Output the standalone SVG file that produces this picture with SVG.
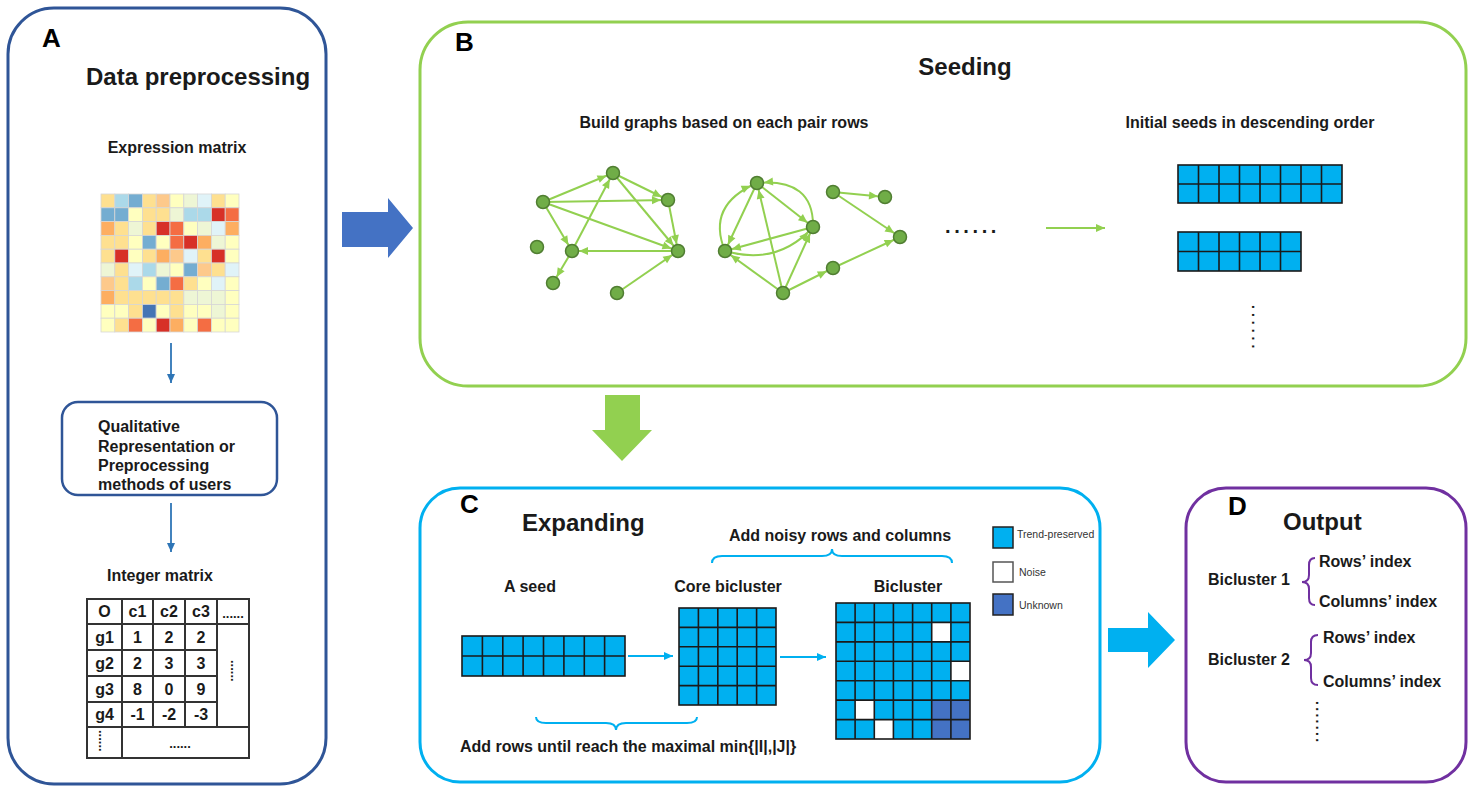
<svg xmlns="http://www.w3.org/2000/svg" width="1477" height="792" viewBox="0 0 1477 792">
  <defs>
    <style>
      .t { font-family: "Liberation Sans", Arial, sans-serif; fill: #1a1a1a; }
      .b { font-weight: bold; }
      .h1 { font-size: 24px; font-weight: bold; }
      .lab { font-size: 26px; font-weight: bold; fill: #000; }
      .s16 { font-size: 16px; font-weight: bold; }
      .leg { font-size: 10.5px; fill: #333; }
      .panel { fill: #fff; stroke-width: 3; }
      .edge { fill: none; stroke: #92D050; stroke-width: 2; marker-end: url(#gArrow); }
      .node { fill: #70AD47; stroke: #507E32; stroke-width: 1.5; }
      .cell { fill: #00B0F0; }
      .grid { fill: none; stroke: #1a1a1a; stroke-width: 1.6; }
      .hm { stroke: #d6d6d6; stroke-width: 0.8; }
      .R { fill: #D73027; } .O { fill: #F46D43; } .o { fill: #FDAE61; } .p { fill: #FDC98B; }
      .y { fill: #FEE090; } .Y { fill: #FFFFBF; } .g { fill: #EEF6D5; } .w { fill: #E0F3F8; }
      .bl { fill: #ABD9E9; } .B { fill: #74ADD1; } .D { fill: #4575B4; }
      .tbl { fill: none; stroke: #333; stroke-width: 2; }
    </style>
    <marker id="gArrow" markerUnits="userSpaceOnUse" markerWidth="10" markerHeight="8" refX="16" refY="4" orient="auto" overflow="visible">
      <path d="M0,0 L9,4 L0,8 z" fill="#92D050"/>
    </marker>
    <marker id="gTip" markerUnits="userSpaceOnUse" markerWidth="10" markerHeight="8" refX="9" refY="4" orient="auto" overflow="visible">
      <path d="M0,0 L9,4 L0,8 z" fill="#92D050"/>
    </marker>
    <marker id="bTip" markerUnits="userSpaceOnUse" markerWidth="10" markerHeight="8" refX="9" refY="4" orient="auto" overflow="visible">
      <path d="M0,0 L9,4 L0,8 z" fill="#2E75B6"/>
    </marker>
    <marker id="cTip" markerUnits="userSpaceOnUse" markerWidth="10" markerHeight="8" refX="9" refY="4" orient="auto" overflow="visible">
      <path d="M0,0 L9,4 L0,8 z" fill="#00B0F0"/>
    </marker>
  </defs>

  <rect width="1477" height="792" fill="#fff"/>

  <!-- Panel A: data preprocessing -->
  <g id="panelA">
    <rect class="panel" x="8" y="8" width="318" height="776" rx="46" stroke="#2F5597"/>
    <text class="t lab" x="42" y="47">A</text>
    <text class="t h1" x="86" y="85">Data preprocessing</text>
    <text class="t s16" x="177" y="153" text-anchor="middle">Expression matrix</text>
  </g>

  <g id="heatmap" class="hm">
    <!-- row 0 -->
    <rect class="y" x="101" y="194" width="13.8" height="13.8"/><rect class="bl" x="114.8" y="194" width="13.8" height="13.8"/><rect class="B" x="128.6" y="194" width="13.8" height="13.8"/><rect class="y" x="142.4" y="194" width="13.8" height="13.8"/><rect class="p" x="156.2" y="194" width="13.8" height="13.8"/><rect class="Y" x="170" y="194" width="13.8" height="13.8"/><rect class="g" x="183.8" y="194" width="13.8" height="13.8"/><rect class="w" x="197.6" y="194" width="13.8" height="13.8"/><rect class="y" x="211.4" y="194" width="13.8" height="13.8"/><rect class="Y" x="225.2" y="194" width="13.8" height="13.8"/>
    <!-- row 1 -->
    <rect class="B" x="101" y="207.8" width="13.8" height="13.8"/><rect class="B" x="114.8" y="207.8" width="13.8" height="13.8"/><rect class="Y" x="128.6" y="207.8" width="13.8" height="13.8"/><rect class="y" x="142.4" y="207.8" width="13.8" height="13.8"/><rect class="y" x="156.2" y="207.8" width="13.8" height="13.8"/><rect class="g" x="170" y="207.8" width="13.8" height="13.8"/><rect class="bl" x="183.8" y="207.8" width="13.8" height="13.8"/><rect class="bl" x="197.6" y="207.8" width="13.8" height="13.8"/><rect class="R" x="211.4" y="207.8" width="13.8" height="13.8"/><rect class="O" x="225.2" y="207.8" width="13.8" height="13.8"/>
    <!-- row 2 -->
    <rect class="o" x="101" y="221.6" width="13.8" height="13.8"/><rect class="y" x="114.8" y="221.6" width="13.8" height="13.8"/><rect class="g" x="128.6" y="221.6" width="13.8" height="13.8"/><rect class="y" x="142.4" y="221.6" width="13.8" height="13.8"/><rect class="R" x="156.2" y="221.6" width="13.8" height="13.8"/><rect class="O" x="170" y="221.6" width="13.8" height="13.8"/><rect class="Y" x="183.8" y="221.6" width="13.8" height="13.8"/><rect class="g" x="197.6" y="221.6" width="13.8" height="13.8"/><rect class="w" x="211.4" y="221.6" width="13.8" height="13.8"/><rect class="o" x="225.2" y="221.6" width="13.8" height="13.8"/>
    <!-- row 3 -->
    <rect class="y" x="101" y="235.4" width="13.8" height="13.8"/><rect class="y" x="114.8" y="235.4" width="13.8" height="13.8"/><rect class="Y" x="128.6" y="235.4" width="13.8" height="13.8"/><rect class="B" x="142.4" y="235.4" width="13.8" height="13.8"/><rect class="Y" x="156.2" y="235.4" width="13.8" height="13.8"/><rect class="O" x="170" y="235.4" width="13.8" height="13.8"/><rect class="R" x="183.8" y="235.4" width="13.8" height="13.8"/><rect class="o" x="197.6" y="235.4" width="13.8" height="13.8"/><rect class="g" x="211.4" y="235.4" width="13.8" height="13.8"/><rect class="Y" x="225.2" y="235.4" width="13.8" height="13.8"/>
    <!-- row 4 -->
    <rect class="y" x="101" y="249.2" width="13.8" height="13.8"/><rect class="R" x="114.8" y="249.2" width="13.8" height="13.8"/><rect class="Y" x="128.6" y="249.2" width="13.8" height="13.8"/><rect class="y" x="142.4" y="249.2" width="13.8" height="13.8"/><rect class="o" x="156.2" y="249.2" width="13.8" height="13.8"/><rect class="p" x="170" y="249.2" width="13.8" height="13.8"/><rect class="w" x="183.8" y="249.2" width="13.8" height="13.8"/><rect class="y" x="197.6" y="249.2" width="13.8" height="13.8"/><rect class="R" x="211.4" y="249.2" width="13.8" height="13.8"/><rect class="Y" x="225.2" y="249.2" width="13.8" height="13.8"/>
    <!-- row 5 -->
    <rect class="g" x="101" y="263" width="13.8" height="13.8"/><rect class="y" x="114.8" y="263" width="13.8" height="13.8"/><rect class="w" x="128.6" y="263" width="13.8" height="13.8"/><rect class="bl" x="142.4" y="263" width="13.8" height="13.8"/><rect class="g" x="156.2" y="263" width="13.8" height="13.8"/><rect class="Y" x="170" y="263" width="13.8" height="13.8"/><rect class="B" x="183.8" y="263" width="13.8" height="13.8"/><rect class="p" x="197.6" y="263" width="13.8" height="13.8"/><rect class="y" x="211.4" y="263" width="13.8" height="13.8"/><rect class="w" x="225.2" y="263" width="13.8" height="13.8"/>
    <!-- row 6 -->
    <rect class="p" x="101" y="276.8" width="13.8" height="13.8"/><rect class="y" x="114.8" y="276.8" width="13.8" height="13.8"/><rect class="bl" x="128.6" y="276.8" width="13.8" height="13.8"/><rect class="Y" x="142.4" y="276.8" width="13.8" height="13.8"/><rect class="B" x="156.2" y="276.8" width="13.8" height="13.8"/><rect class="O" x="170" y="276.8" width="13.8" height="13.8"/><rect class="y" x="183.8" y="276.8" width="13.8" height="13.8"/><rect class="Y" x="197.6" y="276.8" width="13.8" height="13.8"/><rect class="w" x="211.4" y="276.8" width="13.8" height="13.8"/><rect class="Y" x="225.2" y="276.8" width="13.8" height="13.8"/>
    <!-- row 7 -->
    <rect class="o" x="101" y="290.6" width="13.8" height="13.8"/><rect class="y" x="114.8" y="290.6" width="13.8" height="13.8"/><rect class="y" x="128.6" y="290.6" width="13.8" height="13.8"/><rect class="y" x="142.4" y="290.6" width="13.8" height="13.8"/><rect class="y" x="156.2" y="290.6" width="13.8" height="13.8"/><rect class="y" x="170" y="290.6" width="13.8" height="13.8"/><rect class="g" x="183.8" y="290.6" width="13.8" height="13.8"/><rect class="g" x="197.6" y="290.6" width="13.8" height="13.8"/><rect class="g" x="211.4" y="290.6" width="13.8" height="13.8"/><rect class="Y" x="225.2" y="290.6" width="13.8" height="13.8"/>
    <!-- row 8 -->
    <rect class="Y" x="101" y="304.4" width="13.8" height="13.8"/><rect class="Y" x="114.8" y="304.4" width="13.8" height="13.8"/><rect class="y" x="128.6" y="304.4" width="13.8" height="13.8"/><rect class="D" x="142.4" y="304.4" width="13.8" height="13.8"/><rect class="Y" x="156.2" y="304.4" width="13.8" height="13.8"/><rect class="y" x="170" y="304.4" width="13.8" height="13.8"/><rect class="Y" x="183.8" y="304.4" width="13.8" height="13.8"/><rect class="Y" x="197.6" y="304.4" width="13.8" height="13.8"/><rect class="g" x="211.4" y="304.4" width="13.8" height="13.8"/><rect class="Y" x="225.2" y="304.4" width="13.8" height="13.8"/>
    <!-- row 9 -->
    <rect class="Y" x="101" y="318.2" width="13.8" height="13.8"/><rect class="y" x="114.8" y="318.2" width="13.8" height="13.8"/><rect class="O" x="128.6" y="318.2" width="13.8" height="13.8"/><rect class="Y" x="142.4" y="318.2" width="13.8" height="13.8"/><rect class="R" x="156.2" y="318.2" width="13.8" height="13.8"/><rect class="o" x="170" y="318.2" width="13.8" height="13.8"/><rect class="Y" x="183.8" y="318.2" width="13.8" height="13.8"/><rect class="O" x="197.6" y="318.2" width="13.8" height="13.8"/><rect class="Y" x="211.4" y="318.2" width="13.8" height="13.8"/><rect class="Y" x="225.2" y="318.2" width="13.8" height="13.8"/>
  </g>

  <g id="qualBox">
    <rect x="62" y="402" width="215" height="93" rx="16" fill="#fff" stroke="#2F5597" stroke-width="2.5"/>
    <text class="t s16" x="98" y="432">Qualitative</text>
    <text class="t s16" x="98" y="452">Representation or</text>
    <text class="t s16" x="98" y="471">Preprocessing</text>
    <text class="t s16" x="98" y="490">methods of users</text>
  </g>

  <g id="integerMatrix">
    <text class="t s16" x="107" y="581">Integer matrix</text>
    <rect class="tbl" x="87" y="599" width="162" height="159"/>
    <path class="tbl" d="M87,624 H249 M87,727 H249 M87,650 H217 M87,676 H217 M87,702 H217 M122,599 V758 M153,599 V727 M185,599 V727 M217,599 V727"/>
    <g class="t s16" text-anchor="middle">
      <text x="104.5" y="617">O</text><text x="137.5" y="617">c1</text><text x="169" y="617">c2</text><text x="201" y="617">c3</text>
      <text x="104.5" y="643">g1</text><text x="137.5" y="643">1</text><text x="169" y="643">2</text><text x="201" y="643">2</text>
      <text x="104.5" y="669">g2</text><text x="137.5" y="669">2</text><text x="169" y="669">3</text><text x="201" y="669">3</text>
      <text x="104.5" y="695">g3</text><text x="137.5" y="695">8</text><text x="169" y="695">0</text><text x="201" y="695">9</text>
      <text x="104.5" y="720">g4</text><text x="137.5" y="720">-1</text><text x="169" y="720">-2</text><text x="201" y="720">-3</text>
      <text x="233" y="618" font-size="13">......</text>
      <text x="180" y="748" font-size="13">......</text>
    </g>
    <text class="t" font-size="13" font-weight="bold" transform="translate(231,660) rotate(90)">......</text>
    <text class="t" font-size="13" font-weight="bold" transform="translate(99,730) rotate(90)">......</text>
  </g>

  <!-- Panel B: seeding -->
  <g id="panelB">
    <rect class="panel" x="420" y="22" width="1046" height="364" rx="48" stroke="#92D050"/>
    <text class="t lab" x="455" y="51">B</text>
    <text class="t h1" x="965" y="75" text-anchor="middle">Seeding</text>
    <text class="t s16" x="724" y="128" text-anchor="middle">Build graphs based on each pair rows</text>
    <text class="t s16" x="1250" y="128" text-anchor="middle">Initial seeds in descending order</text>
    <text class="t" font-size="20" font-weight="bold" x="945" y="233" letter-spacing="3.6">......</text>
  </g>

  <g id="seeds">
    <rect class="cell" x="1178" y="165" width="164" height="38"/>
    <rect class="grid" x="1178" y="165" width="164" height="38"/>
    <path class="grid" d="M1178,184 H1342 M1198.5,165 V203 M1219,165 V203 M1239.5,165 V203 M1260,165 V203 M1280.5,165 V203 M1301,165 V203 M1321.5,165 V203"/>
    <rect class="cell" x="1178" y="232" width="123" height="39"/>
    <rect class="grid" x="1178" y="232" width="123" height="39"/>
    <path class="grid" d="M1178,251.5 H1301 M1198.5,232 V271 M1219,232 V271 M1239.5,232 V271 M1260,232 V271 M1280.5,232 V271"/>
    <text class="t" font-size="14" font-weight="bold" letter-spacing="4" transform="translate(1252,305) rotate(90)">......</text>
  </g>

  <!-- Panel C: expanding -->
  <g id="panelC">
    <rect class="panel" x="420" y="488" width="680" height="294" rx="40" stroke="#00B0F0"/>
    <text class="t lab" x="460" y="513">C</text>
    <text class="t h1" x="522" y="531">Expanding</text>
    <text class="t s16" x="840" y="541" text-anchor="middle">Add noisy rows and columns</text>
    <text class="t s16" x="530" y="592" text-anchor="middle">A seed</text>
    <text class="t s16" x="728" y="592" text-anchor="middle">Core bicluster</text>
    <text class="t s16" x="908" y="592" text-anchor="middle">Bicluster</text>
    <text class="t s16" x="460" y="752">Add rows until reach the maximal min{|I|,|J|}</text>
    <path d="M712,563 Q712,556 722,556 L822,556 Q832,556 832,549 Q832,556 842,556 L942,556 Q952,556 952,563" fill="none" stroke="#00B0F0" stroke-width="2"/>
    <path d="M536,717 Q536,723 546,723 L606,723 Q616,723 616,730 Q616,723 626,723 L687,723 Q697,723 697,717" fill="none" stroke="#00B0F0" stroke-width="2"/>
  </g>

  <g id="seedGrid">
    <rect class="cell" x="462" y="636" width="163" height="40"/>
    <rect class="grid" x="462" y="636" width="163" height="40"/>
    <path class="grid" d="M462,656 H625 M482.4,636 V676 M502.8,636 V676 M523.1,636 V676 M543.5,636 V676 M563.9,636 V676 M584.3,636 V676 M604.6,636 V676"/>
  </g>

  <g id="coreBicluster">
    <rect class="cell" x="679" y="608" width="97" height="97"/>
    <rect class="grid" x="679" y="608" width="97" height="97"/>
    <path class="grid" d="M679,627.4 H776 M679,646.8 H776 M679,666.2 H776 M679,685.6 H776 M698.4,608 V705 M717.8,608 V705 M737.2,608 V705 M756.6,608 V705"/>
  </g>

  <g id="bicluster">
    <rect class="cell" x="836" y="603" width="134" height="136"/>
    <rect x="931.7" y="622.4" width="19.2" height="19.5" fill="#fff"/>
    <rect x="950.9" y="661.3" width="19.1" height="19.4" fill="#fff"/>
    <rect x="855.1" y="700.1" width="19.2" height="19.5" fill="#fff"/>
    <rect x="874.3" y="719.6" width="19.1" height="19.4" fill="#fff"/>
    <rect x="931.7" y="700.1" width="38.3" height="38.9" fill="#4472C4"/>
    <rect class="grid" x="836" y="603" width="134" height="136"/>
    <path class="grid" d="M836,622.4 H970 M836,641.9 H970 M836,661.3 H970 M836,680.7 H970 M836,700.1 H970 M836,719.6 H970 M855.1,603 V739 M874.3,603 V739 M893.4,603 V739 M912.6,603 V739 M931.7,603 V739 M950.9,603 V739"/>
  </g>

  <g id="legend">
    <rect x="993" y="527" width="20" height="21" fill="#00B0F0" stroke="#222" stroke-width="1.5"/>
    <text class="t leg" x="1017" y="538">Trend-preserved</text>
    <rect x="993" y="562" width="20" height="20" fill="#fff" stroke="#555" stroke-width="1.5"/>
    <text class="t leg" x="1019" y="576">Noise</text>
    <rect x="993" y="594" width="20" height="21" fill="#4472C4" stroke="#222" stroke-width="1.5"/>
    <text class="t leg" x="1019" y="609">Unknown</text>
  </g>

  <!-- Panel D: output -->
  <g id="panelD">
    <rect class="panel" x="1186" y="488" width="280" height="294" rx="40" stroke="#7030A0"/>
    <text class="t lab" x="1228" y="515">D</text>
    <text class="t h1" x="1283" y="530">Output</text>
    <text class="t s16" x="1208" y="585">Bicluster 1</text>
    <text class="t s16" x="1319" y="567">Rows’ index</text>
    <text class="t s16" x="1319" y="607">Columns’ index</text>
    <text class="t s16" x="1208" y="665">Bicluster 2</text>
    <text class="t s16" x="1323" y="643">Rows’ index</text>
    <text class="t s16" x="1323" y="687">Columns’ index</text>
    <path d="M1315,558 Q1309,558 1309,565 L1309,575 Q1309,582 1302,582 Q1309,582 1309,589 L1309,598 Q1309,605 1315,605" fill="none" stroke="#7030A0" stroke-width="2"/>
    <path d="M1318,635 Q1311,635 1311,642 L1311,653 Q1311,660 1304,660 Q1311,660 1311,667 L1311,678 Q1311,685 1318,685" fill="none" stroke="#7030A0" stroke-width="2"/>
    <text class="t" font-size="14" font-weight="bold" letter-spacing="2.3" transform="translate(1316,701) rotate(90)">.......</text>
  </g>

  <!-- connectors -->
  <g id="connectors">
    <!-- block arrows between stages -->
    <path d="M342,212 H388 V198 L413,228 L388,258 V247 H342 z" fill="#4472C4"/>
    <path d="M605,395 H640 V430 H652 L622,461 L592,430 H605 z" fill="#92D050"/>
    <path d="M1108,628 H1148 V612 L1175,640 L1148,668 V652 H1108 z" fill="#00B0F0"/>
    <!-- panel A flow -->
    <line x1="171" y1="343" x2="171" y2="383" stroke="#2E75B6" stroke-width="1.8" marker-end="url(#bTip)"/>
    <line x1="171" y1="503" x2="171" y2="552" stroke="#2E75B6" stroke-width="1.8" marker-end="url(#bTip)"/>
    <!-- graphs to seeds -->
    <line x1="1046" y1="228" x2="1105" y2="228" stroke="#92D050" stroke-width="1.8" marker-end="url(#gTip)"/>
    <!-- seed to core to bicluster -->
    <line x1="628" y1="656" x2="673" y2="656" stroke="#00B0F0" stroke-width="1.8" marker-end="url(#cTip)"/>
    <line x1="780" y1="657" x2="826" y2="657" stroke="#00B0F0" stroke-width="1.8" marker-end="url(#cTip)"/>
    <!-- graph 1 edges -->
    <line class="edge" x1="543" y1="202" x2="613" y2="173"/>
    <line class="edge" x1="543" y1="202" x2="668" y2="200"/>
    <line class="edge" x1="543" y1="202" x2="678" y2="251"/>
    <line class="edge" x1="543" y1="202" x2="572" y2="251"/>
    <line class="edge" x1="613" y1="173" x2="668" y2="200"/>
    <line class="edge" x1="613" y1="173" x2="678" y2="251"/>
    <line class="edge" x1="572" y1="251" x2="613" y2="173"/>
    <line class="edge" x1="668" y1="200" x2="678" y2="251"/>
    <line class="edge" x1="678" y1="251" x2="572" y2="251"/>
    <line class="edge" x1="572" y1="251" x2="553" y2="283"/>
    <line class="edge" x1="617" y1="293" x2="678" y2="251"/>
    <!-- graph 2 edges -->
    <path class="edge" d="M725,251 Q706,205 757,183"/>
    <line class="edge" x1="757" y1="183" x2="725" y2="251"/>
    <line class="edge" x1="757" y1="183" x2="813" y2="227"/>
    <path class="edge" d="M813,227 Q814,178 757,183"/>
    <line class="edge" x1="813" y1="227" x2="725" y2="251"/>
    <path class="edge" d="M725,251 Q778,266 813,227"/>
    <line class="edge" x1="783" y1="293" x2="757" y2="183"/>
    <line class="edge" x1="783" y1="293" x2="725" y2="251"/>
    <line class="edge" x1="783" y1="293" x2="813" y2="227"/>
    <line class="edge" x1="783" y1="293" x2="833" y2="268"/>
    <line class="edge" x1="833" y1="192" x2="885" y2="197"/>
    <line class="edge" x1="833" y1="192" x2="900" y2="237"/>
    <line class="edge" x1="833" y1="268" x2="900" y2="237"/>
  </g>

  <!-- graph nodes -->
  <g id="n1"><circle class="node" cx="543" cy="202" r="6.5"/></g>
  <g id="n2"><circle class="node" cx="613" cy="173" r="6.5"/></g>
  <g id="n3"><circle class="node" cx="668" cy="200" r="6.5"/></g>
  <g id="n4"><circle class="node" cx="537" cy="247" r="6.5"/></g>
  <g id="n5"><circle class="node" cx="572" cy="251" r="6.5"/></g>
  <g id="n6"><circle class="node" cx="678" cy="251" r="6.5"/></g>
  <g id="n7"><circle class="node" cx="553" cy="283" r="6.5"/></g>
  <g id="n8"><circle class="node" cx="617" cy="293" r="6.5"/></g>
  <g id="m1"><circle class="node" cx="757" cy="183" r="6.5"/></g>
  <g id="m2"><circle class="node" cx="813" cy="227" r="6.5"/></g>
  <g id="m3"><circle class="node" cx="725" cy="251" r="6.5"/></g>
  <g id="m4"><circle class="node" cx="783" cy="293" r="6.5"/></g>
  <g id="m5"><circle class="node" cx="833" cy="192" r="6.5"/></g>
  <g id="m6"><circle class="node" cx="885" cy="197" r="6.5"/></g>
  <g id="m7"><circle class="node" cx="900" cy="237" r="6.5"/></g>
  <g id="m8"><circle class="node" cx="833" cy="268" r="6.5"/></g>
</svg>
